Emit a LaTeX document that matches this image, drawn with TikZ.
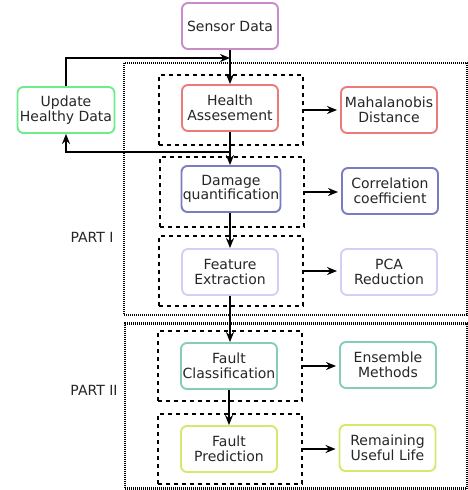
\documentclass[tikz,border=0pt]{standalone}
\usepackage{fontspec}
\setmainfont{DejaVu Sans}
\usetikzlibrary{arrows.meta}

\definecolor{sensorcol}{HTML}{C98BC9}
\definecolor{healthcol}{HTML}{E97B7B}
\definecolor{updatecol}{HTML}{6EEB8C}
\definecolor{damagecol}{HTML}{7B7BC0}
\definecolor{featurecol}{HTML}{D2CFF5}
\definecolor{faultcol}{HTML}{84CDBB}
\definecolor{predcol}{HTML}{D4E86E}

\tikzset{
  block/.style={draw=#1, rounded corners=6pt, line width=1.9pt, minimum width=96pt, minimum height=46pt,
    inner sep=0pt, align=center, font=\fontsize{14}{14.5}\selectfont, text=black!85},
  stage/.style={draw, dash pattern=on 4pt off 4pt, line width=1.8pt, minimum width=144pt, minimum height=70pt},
  part/.style={draw, dash pattern=on 1pt off 1pt, line width=2.4pt},
  partlabel/.style={font=\fontsize{14}{14.5}\selectfont, text=black!85},
  arr/.style={-{Stealth[length=10pt,width=8pt]}, line width=1.6pt},
}

\begin{document}
\begin{tikzpicture}[x=1pt, y=-1pt]
    \useasboundingbox (0,0) rectangle (468,490);

    % parts
    \node[part, minimum width=343pt, minimum height=252pt] (part1) at (295.5,189) {};
    \node[part, minimum width=342pt, minimum height=165pt] (part2) at (296,406) {};
    \node[partlabel] (lab1) at (92,237) {PART I};
    \node[partlabel] (lab2) at (94,390) {PART II};

    % dashed stages
    \node[stage] (stage1) at (231,110) {};
    \node[stage] (stage2) at (232,192) {};
    \node[stage] (stage3) at (231,271) {};
    \node[stage] (stage4) at (230,366) {};
    \node[stage] (stage5) at (230,449) {};

    % main blocks
    \node[block=sensorcol] (sensor) at (230,26) {Sensor Data};
    \node[block=updatecol, minimum width=97pt] (update) at (66,110) {Update\\Healthy Data};
    \node[block=healthcol] (health) at (230,108) {Health\\Assesement};
    \node[block=damagecol, minimum width=99pt] (damage) at (231,189) {Damage\\quantification};
    \node[block=featurecol] (feature) at (230,272) {Feature\\Extraction};
    \node[block=faultcol] (classif) at (229,366) {Fault\\Classification};
    \node[block=predcol] (predict) at (229,449) {Fault\\Prediction};

    % methods
    \node[block=healthcol] (maha) at (389,110) {Mahalanobis\\Distance};
    \node[block=damagecol] (corr) at (390,191) {Correlation\\coefficient};
    \node[block=featurecol] (pca) at (389,272) {PCA\\Reduction};
    \node[block=faultcol] (ensemble) at (388,365) {Ensemble\\Methods};
    \node[block=predcol] (rul) at (387.5,448) {Remaining\\Useful Life};

    \coordinate (join) at (230,58);
    \coordinate (split) at (230,152);

    % flow
    \draw[arr] (sensor.south) -- (health.north);
    \draw[arr] (update.north) |- (join);
    \draw[arr] (health.south) -- (health.south |- damage.north);
    \draw[arr] (split) -| (update.south);
    \draw[arr] (damage.south -| feature.north) -- (feature.north);
    \draw[arr] (feature.south) -- (feature.south |- classif.north);
    \draw[arr] (classif.south) -- (predict.north);

    \draw[arr, shorten >=3pt] (stage1.east) -- (stage1.east -| maha.west);
    \draw[arr, shorten >=3pt] (stage2.east) -- (stage2.east -| corr.west);
    \draw[arr, shorten >=3pt] (stage3.east) -- (stage3.east -| pca.west);
    \draw[arr, shorten >=3pt] (stage4.east) -- (stage4.east -| ensemble.west);
    \draw[arr, shorten >=3pt] (stage5.east) -- (stage5.east -| rul.west);
\end{tikzpicture}
\end{document}
